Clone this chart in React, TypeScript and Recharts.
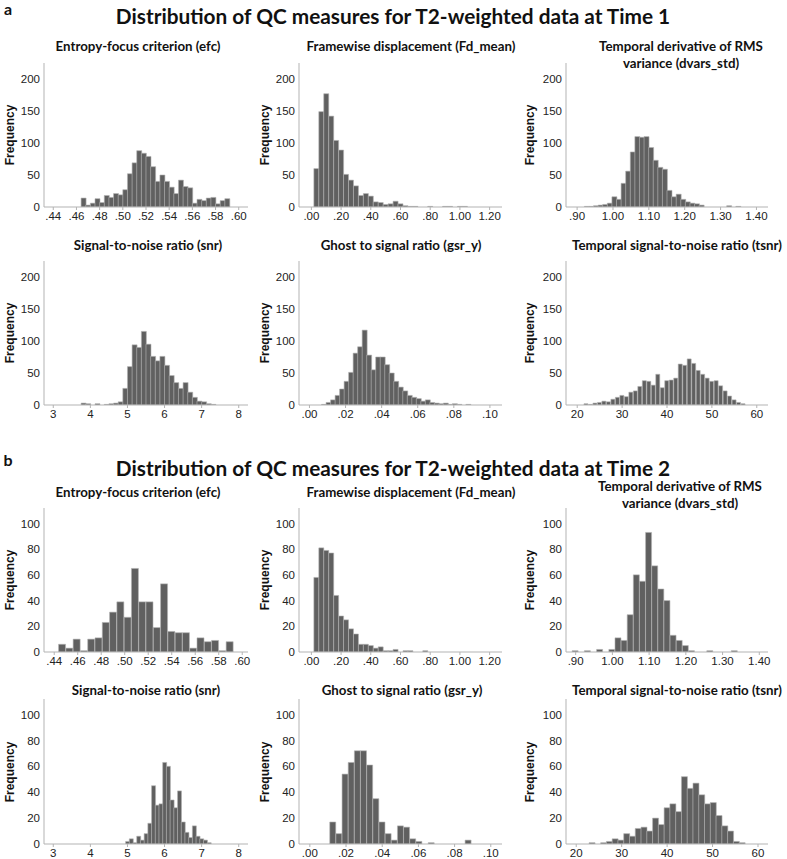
import React from 'react';
import { ComposedChart, Bar, Line, XAxis, YAxis } from 'recharts';

// ---------- tick labels ----------
const efcTicks = [0.44, 0.46, 0.48, 0.5, 0.52, 0.54, 0.56, 0.58, 0.6];
const fdTicks = [0, 0.2, 0.4, 0.6, 0.8, 1.0, 1.2];
const dvarsTicks = [0.9, 1.0, 1.1, 1.2, 1.3, 1.4];
const snrTicks = [3, 4, 5, 6, 7, 8];
const gsrTicks = [0, 0.02, 0.04, 0.06, 0.08, 0.1];
const tsnrTicks = [20, 30, 40, 50, 60];
const freqTicksT1 = [0, 50, 100, 150, 200];
const freqTicksT2 = [0, 20, 40, 60, 80, 100];
const freqMaxT1 = 225;
const freqMaxT2 = 112;

// ---------- titles ----------
const mainTitleT1 = 'Distribution of QC measures for T2-weighted data at Time 1';
const mainTitleT2 = 'Distribution of QC measures for T2-weighted data at Time 2';
const titleEfc = ['Entropy-focus criterion (efc)'];
const titleFd = ['Framewise displacement (Fd_mean)'];
const titleDvars = ['Temporal derivative of RMS', 'variance (dvars_std)'];
const titleSnr = ['Signal-to-noise ratio (snr)'];
const titleGsr = ['Ghost to signal ratio (gsr_y)'];
const titleTsnr = ['Temporal signal-to-noise ratio (tsnr)'];

// ---------- histogram bins: [axis min, bin width, bins on axis, index of first listed bin] ----------
const efcT1Bins = [0.432, 0.004, 44, 8];
const efcT1Counts = [14, 3, 6, 13, 7, 18, 15, 21, 19, 27, 52, 69, 88, 84, 79, 63, 40, 50, 40, 31, 21, 42, 32, 30, 6, 12, 10, 14, 15, 5, 10, 13];

const fdT1Bins = [-1 / 12, 1 / 30, 41, 3];
const fdT1Counts = [60, 149, 177, 142, 104, 89, 51, 42, 33, 18, 21, 17, 8, 7, 4, 5, 9, 5, 2, 1, 1, 0, 0, 1, 0, 0, 1, 1, 0, 1, 1];

const dvarsT1Bins = [0.869, 0.0128, 44, 4];
const dvarsT1Counts = [1, 1, 2, 3, 4, 6, 16, 12, 37, 56, 86, 110, 109, 110, 93, 73, 62, 59, 26, 16, 20, 12, 8, 6, 5, 3, 0, 0, 0, 0, 0, 2, 0, 1];

const snrT1Bins = [2.75, 0.125, 44, 8];
const snrT1Counts = [3, 2, 0, 2, 0, 1, 2, 3, 5, 26, 60, 94, 90, 115, 95, 76, 69, 76, 62, 46, 35, 26, 35, 20, 12, 6, 5, 2, 1];

const gsrT1Bins = [-0.0058, 0.0025, 45, 5];
const gsrT1Counts = [1, 4, 8, 15, 25, 37, 51, 81, 91, 117, 78, 55, 75, 75, 63, 50, 37, 28, 22, 15, 12, 10, 6, 8, 4, 3, 2, 3, 1, 2, 1, 0, 1];

const tsnrT1Bins = [17.5, 1, 45, 4];
const tsnrT1Counts = [2, 1, 3, 4, 6, 5, 9, 12, 15, 13, 20, 22, 29, 38, 37, 31, 48, 27, 38, 39, 42, 64, 62, 72, 65, 54, 48, 42, 37, 38, 30, 22, 14, 8, 4, 2];

const efcT2Bins = [0.4313, 0.0062, 28, 2];
const efcT2Counts = [6, 3, 10, 1, 10, 11, 23, 31, 39, 27, 65, 39, 39, 19, 53, 16, 15, 15, 3, 11, 8, 9, 1, 8];

const fdT2Bins = [-1 / 12, 1 / 30, 41, 3];
const fdT2Counts = [58, 81, 79, 77, 44, 28, 25, 18, 14, 6, 6, 5, 3, 4, 1, 1, 2, 0, 1, 1, 0, 0, 1];

const dvarsT2Bins = [0.8737, 1 / 60, 33, 0];
const dvarsT2Counts = [0, 1, 0, 1, 0, 2, 0, 2, 11, 9, 29, 60, 55, 93, 67, 49, 40, 13, 9, 5, 1, 0, 0, 1, 0, 0, 0, 1];

const snrT2Bins = [2.75, 0.1, 55, 22];
const snrT2Counts = [2, 4, 1, 6, 3, 8, 16, 45, 30, 31, 63, 60, 34, 28, 41, 17, 9, 5, 14, 6, 4, 3, 1];

const gsrT2Bins = [-0.006, 0.0034, 33, 5];
const gsrT2Counts = [17, 8, 54, 63, 72, 72, 61, 35, 17, 8, 3, 14, 13, 4, 2, 0, 1, 0, 0, 0, 0, 0, 3];

const tsnrT2Bins = [17.75, 1.27, 35, 4];
const tsnrT2Counts = [1, 0, 1, 2, 4, 3, 8, 6, 12, 13, 10, 20, 15, 28, 31, 25, 52, 43, 47, 38, 31, 32, 22, 14, 10, 2, 1];

// ---------- helpers ----------
const fmtDec = (v: number) => {
  const s = v.toFixed(2);
  return s.startsWith('0') ? s.slice(1) : s;
};
const fmtInt = (v: number) => String(Math.round(v));

function buildBins(spec: number[], counts: number[]) {
  const [xMin, w, n, first] = spec;
  return Array.from({ length: n }, (_, i) => {
    const k = i - first;
    return {
      bin: i,
      mid: xMin + (i + 0.5) * w,
      count: k >= 0 && k < counts.length ? counts[k] : 0,
    };
  });
}

const AXIS = '#b3b3b3';
const tickStyle = { fill: '#222', fontSize: 11.5, fontFamily: '"Liberation Sans", Arial, sans-serif' };

type HistProps = {
  spec: number[];
  counts: number[];
  ticks: number[];
  fmt: (v: number) => string;
  yMax: number;
  yTicks: number[];
  plotLeft: number;
  plotTop: number;
  plotW: number;
  plotH: number;
};

function Hist({ spec, counts, ticks, fmt, yMax, yTicks, plotLeft, plotTop, plotW, plotH }: HistProps) {
  const data = buildBins(spec, counts);
  const lo = spec[0];
  const hi = spec[0] + spec[1] * spec[2];
  return (
    <div style={{ position: 'absolute', left: plotLeft - 44, top: plotTop - 5 }}>
      <ComposedChart
        width={plotW + 54}
        height={plotH + 5 + 22}
        data={data}
        margin={{ top: 5, right: 10, left: 20, bottom: 0 }}
        barCategoryGap={0}
        barGap={0}
      >
        <XAxis
          xAxisId="num"
          dataKey="mid"
          type="number"
          domain={[lo, hi]}
          allowDataOverflow
          ticks={ticks}
          interval={0}
          tickFormatter={fmt}
          height={22}
          stroke={AXIS}
          axisLine={{ stroke: AXIS }}
          tickLine={{ stroke: AXIS }}
          tickSize={3}
          tickMargin={2}
          tick={tickStyle}
        />
        <XAxis xAxisId="cat" dataKey="bin" type="category" hide height={0} />
        <YAxis
          domain={[0, yMax]}
          allowDataOverflow
          ticks={yTicks}
          interval={0}
          width={24}
          stroke={AXIS}
          tickLine={false}
          tickSize={0}
          tickMargin={4}
          axisLine={{ stroke: AXIS }}
          tick={tickStyle}
        />
        <Bar
          xAxisId="cat"
          dataKey="count"
          fill="#606060"
          stroke="#b4b4b4"
          strokeWidth={0.6}
          isAnimationActive={false}
        />
        <Line
          xAxisId="num"
          dataKey="count"
          stroke="none"
          strokeWidth={0}
          dot={false}
          activeDot={false}
          legendType="none"
          isAnimationActive={false}
        />
      </ComposedChart>
    </div>
  );
}

function Txt({ x, y, size, weight = 700, rotate = 0, family, children }: any) {
  return (
    <div
      style={{
        position: 'absolute',
        left: x,
        top: y,
        transform: `translate(-50%, -50%) rotate(${rotate}deg)`,
        whiteSpace: 'nowrap',
        fontSize: size,
        fontWeight: weight,
        lineHeight: 1,
        fontFamily: family || 'Lato, "Open Sans", sans-serif',
        color: '#111',
      }}
    >
      {children}
    </div>
  );
}

const colLeft = [44, 299, 566];
const colW = [204, 203, 202];
const freqX = [10, 265, 530];

export default function App() {
  const rows = [
    { top: 63, h: 144, yMax: freqMaxT1, yTicks: freqTicksT1, titleY: 47, panels: [
      { spec: efcT1Bins, counts: efcT1Counts, ticks: efcTicks, fmt: fmtDec, title: titleEfc, tx: 138 },
      { spec: fdT1Bins, counts: fdT1Counts, ticks: fdTicks, fmt: fmtDec, title: titleFd, tx: 411 },
      { spec: dvarsT1Bins, counts: dvarsT1Counts, ticks: dvarsTicks, fmt: fmtDec, title: titleDvars, tx: 681 },
    ] },
    { top: 261, h: 144, yMax: freqMaxT1, yTicks: freqTicksT1, titleY: 245.5, panels: [
      { spec: snrT1Bins, counts: snrT1Counts, ticks: snrTicks, fmt: fmtInt, title: titleSnr, tx: 148 },
      { spec: gsrT1Bins, counts: gsrT1Counts, ticks: gsrTicks, fmt: fmtDec, title: titleGsr, tx: 401 },
      { spec: tsnrT1Bins, counts: tsnrT1Counts, ticks: tsnrTicks, fmt: fmtInt, title: titleTsnr, tx: 677 },
    ] },
    { top: 508, h: 144, yMax: freqMaxT2, yTicks: freqTicksT2, titleY: 492.5, panels: [
      { spec: efcT2Bins, counts: efcT2Counts, ticks: efcTicks, fmt: fmtDec, title: titleEfc, tx: 138 },
      { spec: fdT2Bins, counts: fdT2Counts, ticks: fdTicks, fmt: fmtDec, title: titleFd, tx: 411 },
      { spec: dvarsT2Bins, counts: dvarsT2Counts, ticks: dvarsTicks, fmt: fmtDec, title: titleDvars, tx: 680 },
    ] },
    { top: 699, h: 145, yMax: freqMaxT2, yTicks: freqTicksT2, titleY: 690.5, panels: [
      { spec: snrT2Bins, counts: snrT2Counts, ticks: snrTicks, fmt: fmtInt, title: titleSnr, tx: 146 },
      { spec: gsrT2Bins, counts: gsrT2Counts, ticks: gsrTicks, fmt: fmtDec, title: titleGsr, tx: 402 },
      { spec: tsnrT2Bins, counts: tsnrT2Counts, ticks: tsnrTicks, fmt: fmtInt, title: titleTsnr, tx: 677 },
    ] },
  ];

  return (
    <div style={{ position: 'absolute', left: 0, top: 0, width: 787, height: 859, background: '#fff', overflow: 'hidden' }}>
      <Txt x={8} y={9} size={16}>a</Txt>
      <Txt x={393} y={16} size={20.8}>{mainTitleT1}</Txt>
      <Txt x={8} y={460} size={16}>b</Txt>
      <Txt x={393} y={468} size={20.8}>{mainTitleT2}</Txt>
      {rows.map((r, ri) =>
        r.panels.map((p, ci) => (
          <React.Fragment key={`${ri}-${ci}`}>
            <Hist
              spec={p.spec}
              counts={p.counts}
              ticks={p.ticks}
              fmt={p.fmt}
              yMax={r.yMax}
              yTicks={r.yTicks}
              plotLeft={colLeft[ci]}
              plotTop={r.top}
              plotW={colW[ci]}
              plotH={r.h}
            />
            {p.title.length === 1 ? (
              <Txt x={p.tx} y={r.titleY} size={13.3}>{p.title[0]}</Txt>
            ) : (
              <>
                <Txt x={p.tx} y={r.titleY - 0.5 - (ri === 2 ? 5 : 0)} size={13.3}>{p.title[0]}</Txt>
                <Txt x={p.tx} y={r.titleY + 16.5 - (ri === 2 ? 5 : 0)} size={13.3}>{p.title[1]}</Txt>
              </>
            )}
            <Txt
              x={freqX[ci]}
              y={r.top + r.h / 2}
              size={12}
              rotate={-90}
              family='"Liberation Sans", Arial, sans-serif'
            >
              Frequency
            </Txt>
          </React.Fragment>
        ))
      )}
    </div>
  );
}
